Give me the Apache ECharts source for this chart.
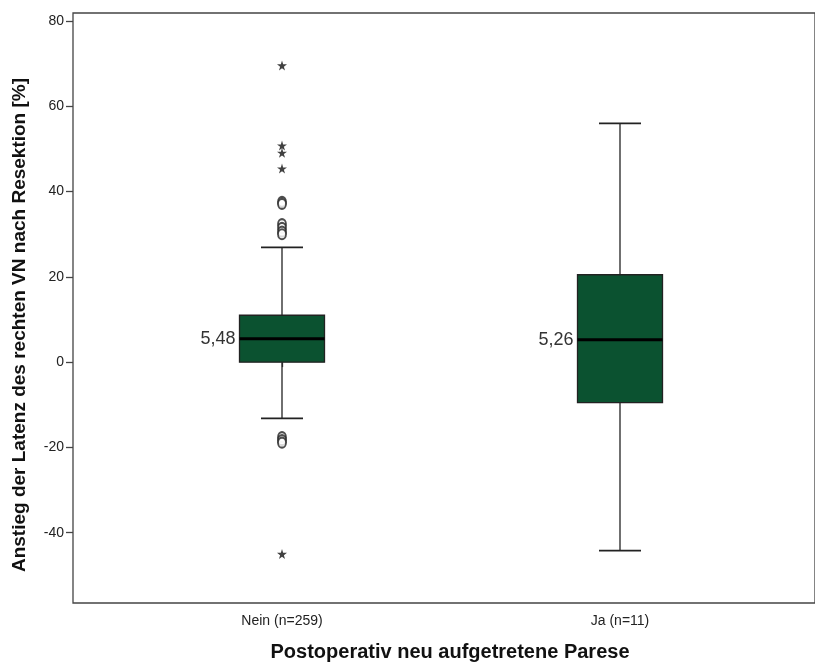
<!DOCTYPE html>
<html>
<head>
<meta charset="utf-8">
<script src="https://cdn.jsdelivr.net/npm/echarts@6/dist/echarts.min.js"></script>
<style>html,body{margin:0;padding:0;background:#fff}#c{width:815px;height:664px}</style>
</head>
<body>
<div id="c"></div>
<script>
const categories = ['Nein (n=259)', 'Ja (n=11)'];
const whiskerLow = [-13.2, -44.2];
const quartile1 = [0.0, -9.5];
const medians = [5.48, 5.26];
const quartile3 = [11.0, 20.5];
const whiskerHigh = [26.9, 56.0];
const circleCats = [0, 0, 0, 0, 0, 0, 0, 0, 0];
const circleVals = [37.6, 37.1, 32.4, 31.5, 30.6, 30.0, -17.6, -18.3, -18.9];
const starCats = [0, 0, 0, 0, 0];
const starVals = [69.6, 50.8, 49.1, 45.4, -45.0];
const yTickValues = [-40, -20, 0, 20, 40, 60, 80];
const yMin = -56.5, yMax = 81.9;
const yTitle = 'Anstieg der Latenz des rechten VN nach Resektion [%]';
const xTitle = 'Postoperativ neu aufgetretene Parese';

const fmt = v => v.toFixed(2).replace('.', ',');
const FONT = '"Liberation Sans", Arial, sans-serif';

const boxData = categories.map((c, i) => [i, whiskerLow[i], quartile1[i], medians[i], quartile3[i], whiskerHigh[i]]);
const STAR = 'path://M50,0 L61,35 L98,35 L68,57 L79,91 L50,70 L21,91 L32,57 L2,35 L39,35 Z';

const chart = echarts.init(document.getElementById('c'), null, {renderer: 'canvas'});
chart.setOption({
  animation: false,
  backgroundColor: '#fff',
  grid: [
    {left: 73, top: 13, width: 760, bottom: 61, show: true, borderColor: '#444', borderWidth: 1.3, backgroundColor: '#fff'},
    {left: 113, top: 13, width: 676, bottom: 61}
  ],
  xAxis: [
    {gridIndex: 0, type: 'value', min: 0, max: 1, axisLine: {show: false}, axisTick: {show: false}, axisLabel: {show: false}, splitLine: {show: false}},
    {gridIndex: 1, type: 'category', data: categories, axisLine: {show: false},
     axisTick: {show: true, alignWithLabel: true, length: 5, lineStyle: {color: '#444', width: 1.3}},
     axisLabel: {color: '#222', fontFamily: FONT, fontSize: 14, margin: 11}, splitLine: {show: false}}
  ],
  yAxis: [
    {gridIndex: 0, type: 'value', min: yMin, max: yMax, axisLine: {show: false},
     axisTick: {show: true, length: 7, customValues: yTickValues, lineStyle: {color: '#444', width: 1.3}},
     axisLabel: {customValues: yTickValues, color: '#222', fontFamily: FONT, fontSize: 14, margin: 9},
     splitLine: {show: false}},
    {gridIndex: 1, type: 'value', min: yMin, max: yMax, axisLine: {show: false}, axisTick: {show: false}, axisLabel: {show: false}, splitLine: {show: false}}
  ],
  graphic: [
    {type: 'text', x: 20, y: 325, rotation: Math.PI / 2,
     style: {text: yTitle, font: 'bold 19px ' + FONT, fill: '#111', align: 'center', verticalAlign: 'middle'}},
    {type: 'text', x: 450, y: 652,
     style: {text: xTitle, font: 'bold 20px ' + FONT, fill: '#111', align: 'center', verticalAlign: 'middle'}}
  ],
  series: [
    {
      type: 'custom', xAxisIndex: 1, yAxisIndex: 1, data: boxData,
      renderItem: function (params, api) {
        const cat = api.value(0);
        const pLo = api.coord([cat, api.value(1)]);
        const pQ1 = api.coord([cat, api.value(2)]);
        const pMed = api.coord([cat, api.value(3)]);
        const pQ3 = api.coord([cat, api.value(4)]);
        const pHi = api.coord([cat, api.value(5)]);
        const x = pMed[0], bw = 85, cw = 42;
        const ls = {stroke: '#222', lineWidth: 1.3};
        return {type: 'group', children: [
          {type: 'line', shape: {x1: x, y1: pHi[1], x2: x, y2: pQ3[1]}, style: ls},
          {type: 'line', shape: {x1: x, y1: pQ1[1], x2: x, y2: pLo[1]}, style: ls},
          {type: 'line', shape: {x1: x - cw / 2, y1: pHi[1], x2: x + cw / 2, y2: pHi[1]}, style: {stroke: '#222', lineWidth: 1.8}},
          {type: 'line', shape: {x1: x - cw / 2, y1: pLo[1], x2: x + cw / 2, y2: pLo[1]}, style: {stroke: '#222', lineWidth: 1.8}},
          {type: 'rect', shape: {x: x - bw / 2, y: pQ3[1], width: bw, height: pQ1[1] - pQ3[1]}, style: {fill: '#0b5230', stroke: '#222', lineWidth: 1.3}},
          {type: 'line', shape: {x1: x - bw / 2, y1: pMed[1], x2: x + bw / 2, y2: pMed[1]}, style: {stroke: '#000', lineWidth: 3}},
          {type: 'text', x: x - bw / 2 - 4, y: pMed[1], style: {text: fmt(api.value(3)), font: '18px ' + FONT, fill: '#333', align: 'right', verticalAlign: 'middle'}}
        ]};
      }
    },
    {
      type: 'scatter', xAxisIndex: 1, yAxisIndex: 1,
      data: circleCats.map((c, i) => [c, circleVals[i]]),
      symbol: 'emptyCircle', symbolSize: [8, 10],
      itemStyle: {color: '#222', borderColor: '#222', borderWidth: 1.5}
    },
    {
      type: 'scatter', xAxisIndex: 1, yAxisIndex: 1,
      data: starCats.map((c, i) => [c, starVals[i]]),
      symbol: STAR, symbolSize: 10,
      itemStyle: {color: '#111'}
    }
  ]
});
</script>
</body>
</html>
